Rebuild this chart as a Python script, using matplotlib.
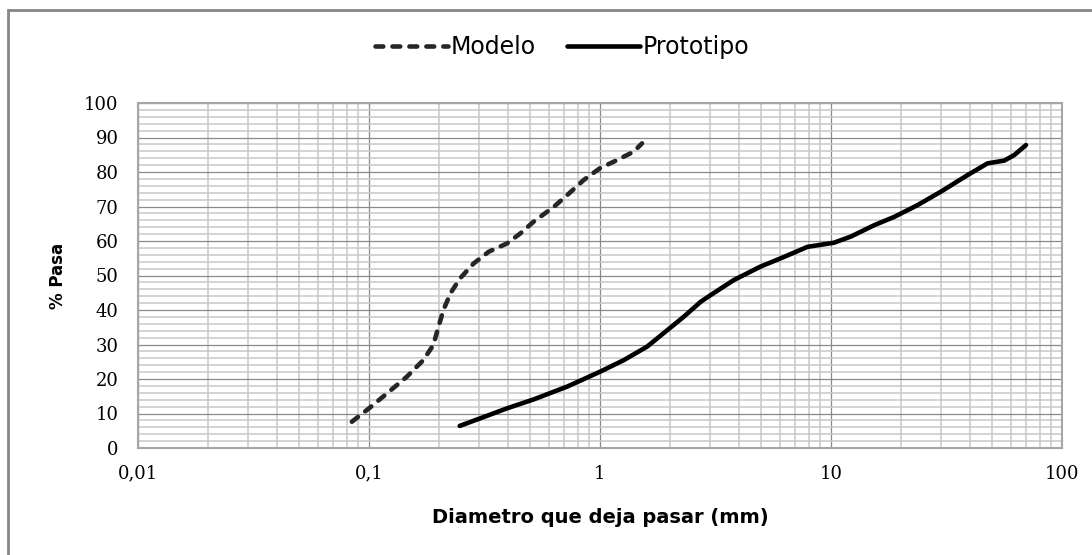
import matplotlib
matplotlib.use('Agg')
import matplotlib.pyplot as plt
from matplotlib.ticker import FixedLocator, FixedFormatter, MultipleLocator
from matplotlib.patches import Rectangle

# curva granulometrica - modelo
modelo_d = [0.0843, 0.100, 0.120, 0.146, 0.172, 0.190, 0.200, 0.210, 0.225, 0.248,
            0.284, 0.330, 0.396, 0.452, 0.516, 0.631, 0.721, 0.851, 1.00, 1.19, 1.40, 1.52]
modelo_p = [7.6, 11.5, 15.9, 20.7, 25.5, 29.9, 35.2, 40.0, 44.8, 49.2,
            53.5, 56.9, 59.3, 62.2, 65.6, 69.9, 73.3, 77.7, 81.1, 83.5, 85.9, 88.3]

# curva granulometrica - prototipo
proto_d = [0.247, 0.303, 0.396, 0.517, 0.721, 1.00, 1.27, 1.60, 1.96, 2.31, 2.73,
           3.01, 3.80, 4.96, 6.27, 7.91, 10.3, 12.2, 15.4, 18.8, 23.7, 29.9,
           39.0, 47.6, 56.2, 62.1, 69.8]
proto_p = [6.4, 8.6, 11.5, 14.1, 17.8, 22.1, 25.5, 29.4, 34.2, 38.1, 42.4,
           44.3, 48.7, 52.6, 55.4, 58.3, 59.5, 61.3, 64.6, 67.0, 70.4, 74.3,
           79.1, 82.5, 83.3, 84.9, 87.8]

x_ticks = [0.01, 0.1, 1, 10, 100]
x_labels = ['0,01', '0,1', '1', '10', '100']

fig = plt.figure(figsize=(10.92, 5.55), dpi=100)
ax = fig.add_axes([138/1092, 1 - 448/555, 924/1092, 345/555])

ax.plot(modelo_d, modelo_p, color='#262626', lw=3.3, linestyle=(0, (1.7, 2.0)),
        dash_capstyle='round', solid_joinstyle='round', label='Modelo')
ax.plot(proto_d, proto_p, color='black', lw=3.3, solid_capstyle='round',
        solid_joinstyle='round', label='Prototipo')

ax.set_xscale('log')
ax.set_xlim(0.01, 100)
ax.set_ylim(0, 100)
ax.xaxis.set_major_locator(FixedLocator(x_ticks))
ax.xaxis.set_major_formatter(FixedFormatter(x_labels))
ax.yaxis.set_major_locator(MultipleLocator(10))
ax.yaxis.set_minor_locator(MultipleLocator(2))

ax.grid(which='major', color='#8a8a8a', lw=0.9)
ax.grid(which='minor', color='#c8c8c8', lw=1.1)
ax.set_axisbelow(True)
for s in ax.spines.values():
    s.set_color('#a6a6a6')
    s.set_linewidth(1.5)

ax.tick_params(which='both', length=0)
ax.tick_params(axis='y', pad=14, labelsize=13)
ax.tick_params(axis='x', pad=12, labelsize=13)
for t in ax.get_xticklabels() + ax.get_yticklabels():
    t.set_family('DejaVu Serif')

ax.set_xlabel('Diametro que deja pasar (mm)', fontsize=14, fontweight='bold', labelpad=18)
ax.set_ylabel('% Pasa', fontsize=12, fontweight='bold', labelpad=12)

fig.legend(loc='center', bbox_to_anchor=(562/1092, 1 - 47/555), ncol=2, frameon=False,
           fontsize=17, handlelength=3.1, handletextpad=0.1, columnspacing=1.3)

# marco del grafico
fig.patches.append(Rectangle((8/1092, -0.1), 1.2, 1.082, transform=fig.transFigure,
                             fill=False, edgecolor='#868686', lw=2, clip_on=False))

fig.savefig('out.png', dpi=100)
